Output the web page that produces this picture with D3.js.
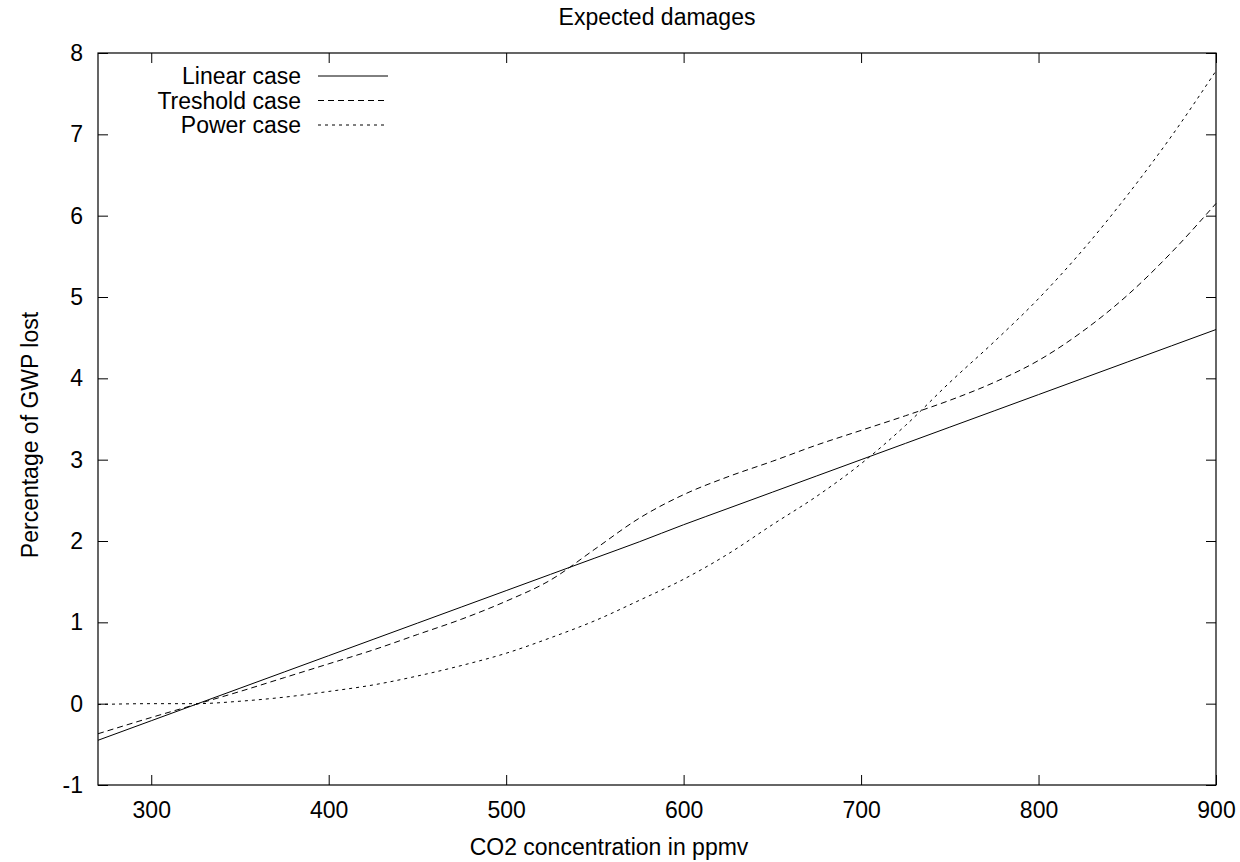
<!DOCTYPE html>
<html>
<head>
<meta charset="utf-8">
<script src="https://cdn.jsdelivr.net/npm/d3@7"></script>
<style>
  body { margin: 0; background: #fff; }
  text { font-family: "Liberation Sans", Arial, sans-serif; fill: #000; }
</style>
</head>
<body>
<div id="chart"></div>
<script>
// CO2 concentration (ppmv) sample points
const co2 = [270, 300, 325, 350, 375, 400, 425, 450, 475, 500, 525, 550, 575,
             600, 625, 650, 675, 700, 725, 750, 775, 800, 825, 850, 875, 900];

// percentage of GWP lost
const linearCase = [-0.45, -0.21, -0.01, 0.19, 0.39, 0.59, 0.79, 0.99, 1.19, 1.39, 1.59, 1.79, 1.99,
                    2.20, 2.40, 2.60, 2.80, 3.00, 3.20, 3.40, 3.60, 3.80, 4.00, 4.20, 4.40, 4.60];
const tresholdCase = [-0.37, -0.17, -0.01, 0.15, 0.32, 0.49, 0.66, 0.85, 1.04, 1.26, 1.52, 1.90, 2.28,
                      2.57, 2.79, 2.98, 3.18, 3.36, 3.54, 3.73, 3.95, 4.22, 4.58, 5.02, 5.55, 6.15];
const powerCase = [-0.01, 0.0, 0.0, 0.03, 0.08, 0.15, 0.23, 0.34, 0.47, 0.62, 0.81, 1.02, 1.27,
                   1.53, 1.84, 2.20, 2.55, 2.95, 3.42, 3.95, 4.45, 4.98, 5.58, 6.25, 6.98, 7.78];

const seriesNames = ["Linear case", "Treshold case", "Power case"];
const xTicks = [300, 400, 500, 600, 700, 800, 900];
const yTicks = [-1, 0, 1, 2, 3, 4, 5, 6, 7, 8];

const series = [
  { name: seriesNames[0], values: linearCase, dash: null },
  { name: seriesNames[1], values: tresholdCase, dash: "6,4" },
  { name: seriesNames[2], values: powerCase, dash: "3,4" }
];

const W = 1240, H = 862;
const margin = { top: 53, right: 24, bottom: 77, left: 98 },
      width = W - margin.left - margin.right,
      height = H - margin.top - margin.bottom;
const fontSize = 23;

const svg = d3.select("#chart")
  .append("svg")
  .attr("width", W)
  .attr("height", H);

const g = svg.append("g")
  .attr("transform", `translate(${margin.left},${margin.top})`);

const x = d3.scaleLinear().domain([270, 900]).range([0, width]);
const y = d3.scaleLinear().domain([-1, 8]).range([height, 0]);

// axes with inward ticks, mirrored on top and right
function styleAxis(sel) {
  sel.select(".domain").remove();
  sel.selectAll(".tick line").attr("stroke", "#000").attr("stroke-width", 1);
  sel.selectAll("text").style("font-size", fontSize + "px").attr("fill", "#000");
}

g.append("g")
  .attr("transform", `translate(0,${height})`)
  .call(d3.axisBottom(x).tickValues(xTicks).tickSize(-10).tickPadding(17))
  .call(styleAxis);

g.append("g")
  .call(d3.axisTop(x).tickValues(xTicks).tickSize(-10).tickFormat(""))
  .call(styleAxis);

g.append("g")
  .call(d3.axisLeft(y).tickValues(yTicks).tickSize(-10).tickPadding(15).tickFormat(d => String(d)))
  .call(styleAxis);

g.append("g")
  .attr("transform", `translate(${width},0)`)
  .call(d3.axisRight(y).tickValues(yTicks).tickSize(-10).tickFormat(""))
  .call(styleAxis);

// frame
g.append("rect")
  .attr("width", width)
  .attr("height", height)
  .attr("fill", "none")
  .attr("stroke", "#000")
  .attr("stroke-width", 1.2);

const line = d3.line()
  .x((d, i) => x(co2[i]))
  .y(d => y(d))
  .curve(d3.curveMonotoneX);

g.selectAll(".curve")
  .data(series)
  .enter()
  .append("path")
  .attr("class", "curve")
  .attr("d", d => line(d.values))
  .attr("fill", "none")
  .attr("stroke", "#000")
  .attr("stroke-width", 1)
  .attr("stroke-dasharray", d => d.dash);

// legend
const legend = g.append("g").attr("transform", "translate(203,23)");
series.forEach((s, i) => {
  const row = legend.append("g").attr("transform", `translate(0,${i * 24.5})`);
  row.append("text")
    .attr("x", 0)
    .attr("y", 0)
    .attr("dy", "0.35em")
    .attr("text-anchor", "end")
    .style("font-size", fontSize + "px")
    .text(s.name);
  row.append("line")
    .attr("x1", 17).attr("x2", 87)
    .attr("y1", 0).attr("y2", 0)
    .attr("stroke", "#000")
    .attr("stroke-width", 1)
    .attr("stroke-dasharray", s.dash);
});

// title and axis labels
svg.append("text")
  .attr("x", margin.left + width / 2)
  .attr("y", 25)
  .attr("text-anchor", "middle")
  .style("font-size", fontSize + "px")
  .text("Expected damages");

svg.append("text")
  .attr("x", 609)
  .attr("y", 855)
  .attr("text-anchor", "middle")
  .style("font-size", fontSize + "px")
  .text("CO2 concentration in ppmv");

svg.append("text")
  .attr("transform", `translate(38,435) rotate(-90)`)
  .attr("text-anchor", "middle")
  .style("font-size", fontSize + "px")
  .text("Percentage of GWP lost");
</script>
</body>
</html>
